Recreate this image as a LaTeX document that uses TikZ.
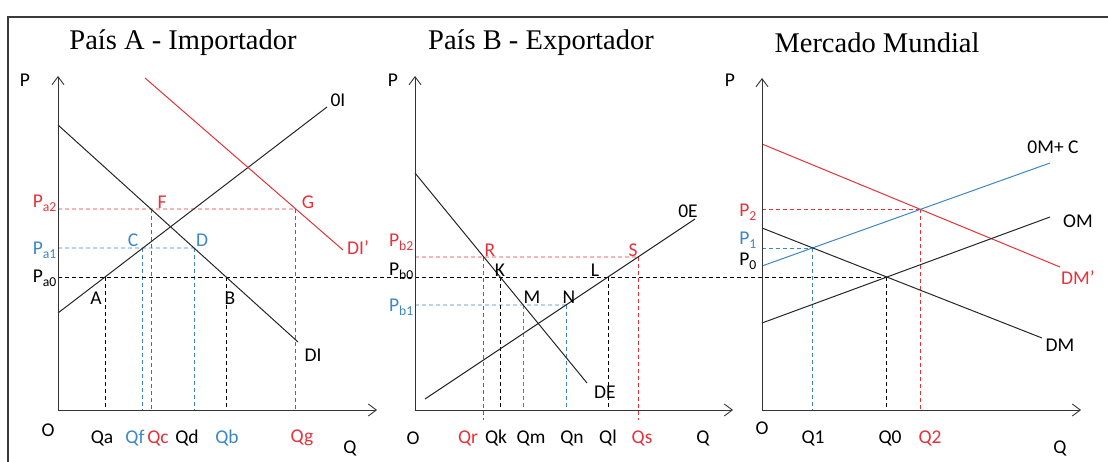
\documentclass[tikz,border=0pt]{standalone}
\usepackage{fontspec}
\setmainfont{Carlito}
\newfontfamily\titlefont{Liberation Serif}
\usetikzlibrary{arrows.meta}
\definecolor{tariffred}{HTML}{E5323B}
\definecolor{quotablue}{HTML}{3C87C4}
\definecolor{framegray}{HTML}{3A3A3A}
\tikzset{
  frame/.style={draw=framegray,line width=1.4pt},
  axis/.style={draw=black!80,line width=0.9pt,-{Straight Barb[length=8pt,width=12pt]}},
  curve/.style={line width=1pt,draw=black!85},
  guide/.style={dash pattern=on 4pt off 3pt,line width=0.8pt},
  lbl/.style={font=\fontsize{19.5}{22}\selectfont,inner sep=0pt},
  title/.style={font=\titlefont\fontsize{28.5}{32}\selectfont,inner sep=0pt}
}
\begin{document}
\begin{tikzpicture}[x=1pt,y=-1pt]
\useasboundingbox (0,0) rectangle (1108,462);
\draw[frame] (8,462) -- (8,17) -- (1108,17);

\node[title] (titA) at (183,43) {País A - Importador};
\node[title] (titB) at (541,43) {País B - Exportador};
\node[title] (titC) at (877,43) {Mercado Mundial};

% Pais A
\coordinate (oA) at (58,410);
\coordinate (pA) at (58,76);
\coordinate (qA) at (377,410);
\coordinate (oiS) at (58,313);
\coordinate (oiE) at (327,107);
\coordinate (diS) at (58,125);
\coordinate (diE) at (298,342);
\coordinate (dipS) at (145,78);
\coordinate (dipE) at (343,250);
\coordinate (F) at (intersection of diS--diE and 0,209--1,209);
\coordinate (G) at (intersection of dipS--dipE and 0,209--1,209);
\coordinate (C) at (intersection of oiS--oiE and 0,248--1,248);
\coordinate (D) at (intersection of diS--diE and 0,248--1,248);
\coordinate (A) at (intersection of oiS--oiE and 0,277--1,277);
\coordinate (B) at (intersection of diS--diE and 0,277--1,277);

% Pais B
\coordinate (oB) at (415,410);
\coordinate (pB) at (415,76);
\coordinate (qB) at (733,410);
\coordinate (lowB) at (415,420);
\coordinate (deS) at (415,173);
\coordinate (deE) at (587,383);
\coordinate (oeS) at (425,399);
\coordinate (oeE) at (695,219);
\coordinate (R) at (intersection of deS--deE and 0,257--1,257);
\coordinate (S) at (intersection of oeS--oeE and 0,257--1,257);
\coordinate (K) at (intersection of deS--deE and 0,277--1,277);
\coordinate (L) at (intersection of oeS--oeE and 0,277--1,277);
\coordinate (M) at (intersection of deS--deE and 0,305--1,305);
\coordinate (N) at (intersection of oeS--oeE and 0,305--1,305);

% Mercado mundial
\coordinate (oC) at (762,410);
\coordinate (pC) at (762,78);
\coordinate (qC) at (1081,410);
\coordinate (dmpS) at (762,144);
\coordinate (dmpE) at (1060,267);
\coordinate (omcS) at (762,266);
\coordinate (omcE) at (1050,163);
\coordinate (omS) at (762,323);
\coordinate (omE) at (1050,217);
\coordinate (dmS) at (762,228);
\coordinate (dmE) at (1042,338);
\coordinate (eqTwo) at (intersection of dmpS--dmpE and omcS--omcE);
\coordinate (eqOne) at (intersection of dmS--dmE and omcS--omcE);
\coordinate (eqZero) at (intersection of dmS--dmE and omS--omE);

\draw[guide,tariffred] (oA |- F) -- (G);
\draw[guide,tariffred] (F) -- (F |- oA);
\draw[guide,tariffred] (G) -- (G |- oA);
\draw[guide,quotablue] (oA |- C) -- (D);
\draw[guide,quotablue] (C) -- (C |- oA);
\draw[guide,quotablue] (D) -- (D |- oA);
\draw[guide] (A) -- (A |- oA);
\draw[guide] (B) -- (B |- oA);
\draw[guide,line width=1pt] (oA |- A) -- (eqZero |- A);

\draw[guide,tariffred] (oB |- R) -- (S);
\draw[guide,tariffred] (R) -- (R |- lowB);
\draw[guide,tariffred] (S) -- (S |- lowB);
\draw[guide,quotablue] (oB |- M) -- (N);
\draw[guide,quotablue] (M) -- (M |- oB);
\draw[guide,quotablue] (N) -- (N |- oB);
\draw[guide] (K) -- (K |- oB);
\draw[guide] (L) -- (L |- oB);

\draw[guide,tariffred] (oC |- eqTwo) -- (eqTwo);
\draw[guide,tariffred] (eqTwo) -- (eqTwo |- oC);
\draw[guide,quotablue] (oC |- eqOne) -- (eqOne);
\draw[guide,quotablue] (eqOne) -- (eqOne |- oC);
\draw[guide] (eqZero) -- (eqZero |- oC);

\draw[curve] (oiS) -- (oiE);
\draw[curve] (diS) -- (diE);
\draw[curve,tariffred] (dipS) -- (dipE);
\draw[curve] (deS) -- (deE);
\draw[curve] (oeS) -- (oeE);
\draw[curve,tariffred] (dmpS) -- (dmpE);
\draw[curve,quotablue] (omcS) -- (omcE);
\draw[curve] (omS) -- (omE);
\draw[curve] (dmS) -- (dmE);

\draw[axis] (oA) -- (pA);
\draw[axis] (oA) -- (qA);
\draw[axis] (oB) -- (pB);
\draw[axis] (oB) -- (qB);
\draw[axis] (oC) -- (pC);
\draw[axis] (oC) -- (qC);

\node[lbl] (labPA) at (25,80) {P};
\node[lbl] (labOA) at (48,430) {O};
\node[lbl] (labQA) at (350,448) {Q};
\node[lbl] (labPB) at (393,80) {P};
\node[lbl] (labOB) at (413,438) {O};
\node[lbl] (labQB) at (703,438) {Q};
\node[lbl] (labPC) at (730,80) {P};
\node[lbl] (labOC) at (762,428) {O};
\node[lbl] (labQC) at (1060,448) {Q};

\node[lbl] (labOI) at (338,100) {0I};
\node[lbl] (labDI) at (313,355) {DI};
\node[lbl,tariffred] (labDIp) at (358,248) {DI’};
\node[lbl] (labOE) at (688,211) {0E};
\node[lbl] (labDE) at (605,392) {DE};
\node[lbl] (labOMC) at (1053,147) {0M+ C};
\node[lbl] (labOM) at (1078,221) {OM};
\node[lbl,tariffred] (labDMp) at (1078,278) {DM’};
\node[lbl] (labDM) at (1060,345) {DM};

\node[lbl,tariffred,anchor=base east] (labPa2) at (57,208) {P\textsubscript{a2}};
\node[lbl,quotablue,anchor=base east] (labPa1) at (57,255) {P\textsubscript{a1}};
\node[lbl,anchor=base east] (labPa0) at (57,283) {P\textsubscript{a0}};
\node[lbl,tariffred,anchor=base east] (labPb2) at (414,247) {P\textsubscript{b2}};
\node[lbl,anchor=base east] (labPb0) at (414,276) {P\textsubscript{b0}};
\node[lbl,quotablue,anchor=base east] (labPb1) at (414,312) {P\textsubscript{b1}};
\node[lbl,tariffred,anchor=base east] (labP2) at (757,217) {P\textsubscript{2}};
\node[lbl,quotablue,anchor=base east] (labP1) at (757,245) {P\textsubscript{1}};
\node[lbl,anchor=base east] (labP0) at (757,266) {P\textsubscript{0}};

\node[lbl,tariffred] (labF) at (162,202) {F};
\node[lbl,tariffred] (labG) at (308,202) {G};
\node[lbl,quotablue] (labC) at (133,240) {C};
\node[lbl,quotablue] (labD) at (202,240) {D};
\node[lbl] (labA) at (96,298) {A};
\node[lbl] (labB) at (230,298) {B};
\node[lbl,tariffred] (labR) at (490,250) {R};
\node[lbl,tariffred] (labS) at (633,250) {S};
\node[lbl] (labK) at (500,270) {K};
\node[lbl] (labL) at (595,270) {L};
\node[lbl] (labM) at (532,297) {M};
\node[lbl] (labN) at (569,297) {N};

\node[lbl] (labQa) at (102,438) {Qa};
\node[lbl,quotablue] (labQf) at (135,438) {Qf};
\node[lbl,tariffred] (labQc) at (158,438) {Qc};
\node[lbl] (labQd) at (187,438) {Qd};
\node[lbl,quotablue] (labQb) at (227,438) {Qb};
\node[lbl,tariffred] (labQg) at (302,438) {Qg};
\node[lbl,tariffred] (labQr) at (468,438) {Qr};
\node[lbl] (labQk) at (496,438) {Qk};
\node[lbl] (labQm) at (531,438) {Qm};
\node[lbl] (labQn) at (572,438) {Qn};
\node[lbl] (labQl) at (608,438) {Ql};
\node[lbl,tariffred] (labQs) at (642,438) {Qs};
\node[lbl] (labQone) at (813,438) {Q1};
\node[lbl] (labQzero) at (890,438) {Q0};
\node[lbl,tariffred] (labQtwo) at (930,438) {Q2};
\end{tikzpicture}
\end{document}
